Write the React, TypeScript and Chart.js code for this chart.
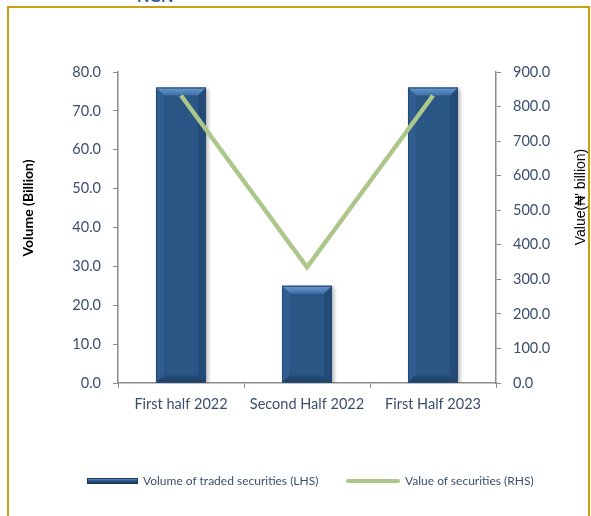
import React, { useEffect, useRef } from "react";
import { Chart, registerables } from "chart.js";

Chart.register(...registerables);

// Half-year periods on the category axis
const categories = ["First half 2022", "Second Half 2022", "First Half 2023"];
// Volume of traded securities, billions (left axis)
const volumeBillion = [76.0, 25.0, 76.0];
// Value of securities, ₦ billions (right axis)
const valueBillion = [832.0, 335.0, 832.0];
// Axis ranges: [min, max, step]
const volumeAxis = [0, 80, 10];
const valueAxis = [0, 900, 100];

const seriesNames = ["Volume of traded securities (LHS)", "Value of securities (RHS)"];
const axisTitles = ["Volume (Billion)", "Value(₦' billion)"];

const BAR_BLUE = "#2A5686";
const LINE_GREEN = "#ADC78A";
const TICK_TEXT = "#3A4F6E";
const AXIS_GREY = "#8C8C8C";
const GOLD = "#C9A013";

const W = 591;
const H = 516;
const AREA = { left: 118, right: 496, top: 72, bottom: 383 };
const X_AXIS_H = 40;

// Bevelled bar look: soft drop shadow plus lit/shaded edges
const bevelPlugin = {
  id: "bevelBars",
  beforeDatasetDraw(chart: any, args: any) {
    if (args.index !== 0) return;
    const ctx = chart.ctx;
    ctx.save();
    ctx.shadowColor = "rgba(0,0,0,0.3)";
    ctx.shadowBlur = 4;
    ctx.shadowOffsetX = 2;
    ctx.shadowOffsetY = 1;
  },
  afterDatasetDraw(chart: any, args: any) {
    if (args.index !== 0) return;
    const ctx = chart.ctx;
    ctx.restore();
    const meta = chart.getDatasetMeta(0);
    meta.data.forEach((el: any) => {
      const p = el.getProps(["x", "y", "base", "width"], true);
      const l = p.x - p.width / 2;
      const r = p.x + p.width / 2;
      const t = Math.min(p.y, p.base);
      const b = Math.max(p.y, p.base);
      const d = Math.min(8, (b - t) / 2);
      const poly = (pts: number[][], fill: any) => {
        ctx.beginPath();
        ctx.moveTo(pts[0][0], pts[0][1]);
        for (let i = 1; i < pts.length; i++) ctx.lineTo(pts[i][0], pts[i][1]);
        ctx.closePath();
        ctx.fillStyle = fill;
        ctx.fill();
      };
      ctx.save();
      const topGrad = ctx.createLinearGradient(0, t, 0, t + d);
      topGrad.addColorStop(0, "#6C9BD0");
      topGrad.addColorStop(1, "#3C6EA5");
      poly([[l, t], [r, t], [r - d, t + d], [l + d, t + d]], topGrad);
      poly([[l, t], [l + d, t + d], [l + d, b - d], [l, b]], "rgba(80,130,190,0.18)");
      poly([[r, t], [r, b], [r - d, b - d], [r - d, t + d]], "rgba(10,30,60,0.18)");
      const botGrad = ctx.createLinearGradient(0, b - d, 0, b);
      botGrad.addColorStop(0, "#275281");
      botGrad.addColorStop(1, "#1C3D63");
      poly([[l, b], [l + d, b - d], [r - d, b - d], [r, b]], botGrad);
      ctx.strokeStyle = "#23496F";
      ctx.lineWidth = 1;
      ctx.strokeRect(l + 0.5, t + 0.5, r - l - 1, b - t - 1);
      ctx.restore();
    });
  },
};

// Rotated axis titles
const titlePlugin = {
  id: "axisTitles",
  afterDraw(chart: any) {
    const ctx = chart.ctx;
    ctx.save();
    ctx.fillStyle = "#000";
    ctx.textAlign = "center";
    ctx.textBaseline = "middle";
    ctx.translate(28, 208);
    ctx.rotate(-Math.PI / 2);
    ctx.font = "bold 14px Lato";
    ctx.fillText(axisTitles[0], 0, 0);
    ctx.restore();
    ctx.save();
    ctx.fillStyle = "#000";
    ctx.textAlign = "center";
    ctx.textBaseline = "middle";
    ctx.translate(581, 197);
    ctx.rotate(-Math.PI / 2);
    ctx.font = "14px 'Liberation Sans', 'DejaVu Sans'";
    ctx.fillText(axisTitles[1], 0, 0);
    ctx.restore();
  },
};

export default function App() {
  const canvasRef = useRef<HTMLCanvasElement | null>(null);

  useEffect(() => {
    if (!canvasRef.current) return;
    const tickFont = { family: "Lato", size: 14.5 };
    const chart = new Chart(canvasRef.current, {
      type: "bar",
      data: {
        labels: categories,
        datasets: [
          {
            type: "bar",
            label: seriesNames[0],
            data: volumeBillion,
            yAxisID: "y",
            backgroundColor: BAR_BLUE,
            barPercentage: 0.397,
            categoryPercentage: 1,
            order: 2,
          },
          {
            type: "line",
            label: seriesNames[1],
            data: valueBillion,
            yAxisID: "y1",
            borderColor: LINE_GREEN,
            backgroundColor: LINE_GREEN,
            borderWidth: 4.5,
            pointRadius: 0,
            tension: 0,
            order: 1,
          },
        ],
      } as any,
      options: {
        responsive: false,
        animation: false,
        devicePixelRatio: 1,
        layout: {
          padding: { left: 0, right: 0, top: AREA.top, bottom: H - AREA.bottom - X_AXIS_H },
        },
        plugins: {
          legend: { display: false },
          tooltip: { enabled: false },
        },
        scales: {
          x: {
            grid: {
              display: true,
              drawOnChartArea: false,
              drawTicks: true,
              tickLength: 5,
              color: AXIS_GREY,
              offset: true,
            },
            border: { display: true, color: AXIS_GREY, width: 1.5 },
            ticks: { color: TICK_TEXT, font: tickFont, padding: 8 },
            afterFit: (s: any) => {
              s.height = X_AXIS_H;
            },
          },
          y: {
            position: "left",
            min: volumeAxis[0],
            max: volumeAxis[1],
            grid: { display: true, drawOnChartArea: false, tickLength: 5, color: AXIS_GREY },
            border: { display: true, color: AXIS_GREY, width: 1.5 },
            ticks: {
              stepSize: volumeAxis[2],
              color: TICK_TEXT,
              font: tickFont,
              padding: 12,
              callback: (v: any) => Number(v).toFixed(1),
            },
            afterFit: (s: any) => {
              s.width = AREA.left;
            },
          },
          y1: {
            position: "right",
            min: valueAxis[0],
            max: valueAxis[1],
            grid: { display: true, drawOnChartArea: false, tickLength: 5, color: AXIS_GREY },
            border: { display: true, color: AXIS_GREY, width: 1.5 },
            ticks: {
              stepSize: valueAxis[2],
              color: TICK_TEXT,
              font: tickFont,
              padding: 12,
              callback: (v: any) => Number(v).toFixed(1),
            },
            afterFit: (s: any) => {
              s.width = W - AREA.right;
            },
          },
        },
      } as any,
      plugins: [bevelPlugin, titlePlugin],
    });
    return () => chart.destroy();
  }, []);

  const legendText: React.CSSProperties = {
    position: "absolute",
    top: 473,
    fontFamily: "Lato",
    fontSize: 12,
    color: TICK_TEXT,
    whiteSpace: "nowrap",
    lineHeight: "16px",
  };

  return (
    <div
      style={{
        position: "fixed",
        left: 0,
        top: 0,
        width: W,
        height: H,
        background: "#fff",
        overflow: "hidden",
      }}
    >
      <div
        style={{
          position: "absolute",
          left: 120,
          top: 0,
          height: 4,
          width: 100,
          overflow: "hidden",
        }}
      >
        <div
          style={{
            position: "absolute",
            left: 17,
            top: -12,
            fontFamily: "Lato",
            fontWeight: 700,
            fontSize: 16,
            lineHeight: "16px",
            color: "#2F5597",
          }}
        >
          NGN
        </div>
      </div>
      <canvas ref={canvasRef} width={W} height={H} style={{ position: "absolute", left: 0, top: 0 }} />
      <div style={{ position: "absolute", left: 7, top: 6, width: 583, height: 2, background: GOLD }} />
      <div style={{ position: "absolute", left: 7, top: 6, width: 2, height: H, background: GOLD }} />
      <div style={{ position: "absolute", left: 588, top: 6, width: 2, height: H, background: GOLD }} />
      <div
        style={{
          position: "absolute",
          left: 87,
          top: 478,
          width: 51,
          height: 6,
          background: "linear-gradient(#5A8BC2, #2A5686 45%, #1B3A5E)",
          border: "1px solid #1B3A5E",
          boxSizing: "border-box",
        }}
      />
      <div style={{ ...legendText, left: 143 }}>{seriesNames[0]}</div>
      <div
        style={{
          position: "absolute",
          left: 346,
          top: 479,
          width: 54,
          height: 4,
          background: LINE_GREEN,
          borderRadius: 2,
        }}
      />
      <div style={{ ...legendText, left: 405 }}>{seriesNames[1]}</div>
    </div>
  );
}
